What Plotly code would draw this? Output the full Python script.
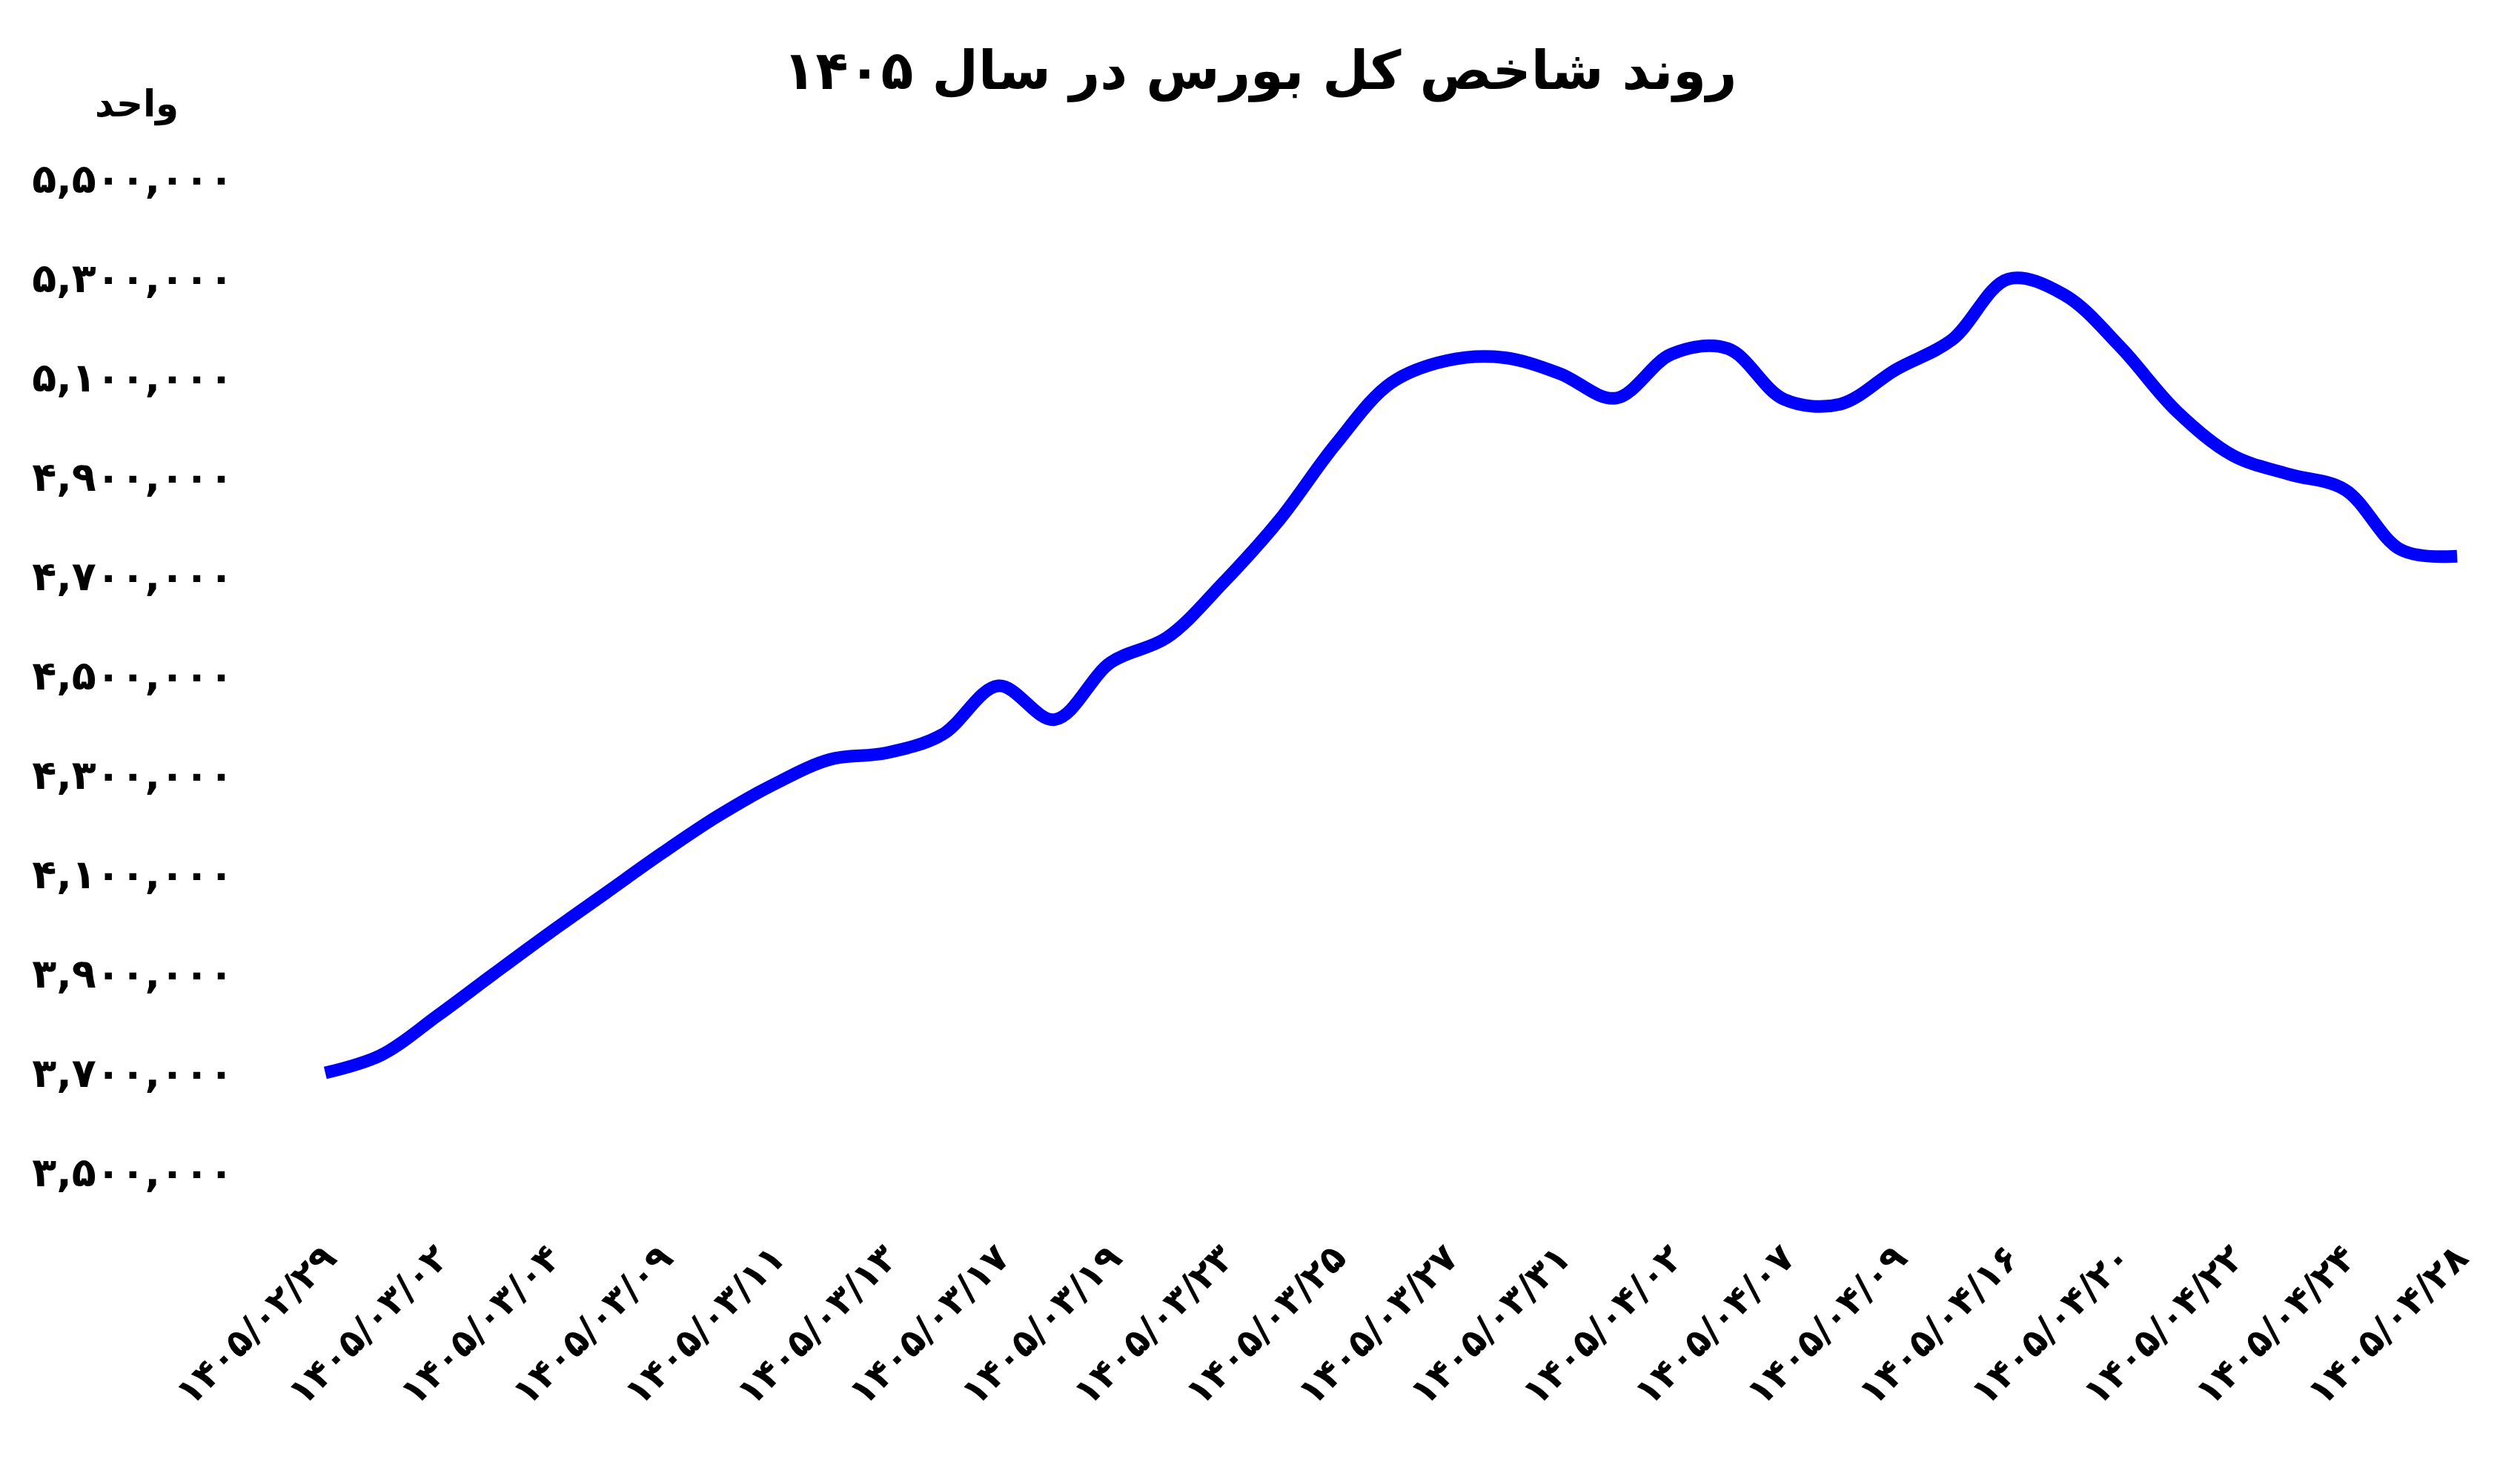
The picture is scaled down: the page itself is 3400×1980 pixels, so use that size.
import plotly.graph_objects as go

def fa(s):
    return str(s).translate(str.maketrans("0123456789", "۰۱۲۳۴۵۶۷۸۹"))

tick_dates = ["1405/02/29", "1405/03/02", "1405/03/04", "1405/03/09", "1405/03/11",
              "1405/03/13", "1405/03/17", "1405/03/19", "1405/03/23", "1405/03/25",
              "1405/03/27", "1405/03/31", "1405/04/02", "1405/04/07", "1405/04/09",
              "1405/04/16", "1405/04/20", "1405/04/22", "1405/04/24", "1405/04/28"]

index_values = [3700000, 3736000, 3815000, 3899000, 3982000, 4062000, 4142000, 4217000,
                4281000, 4331000, 4344000, 4381000, 4479000, 4411000, 4526000, 4576000,
                4686000, 4812000, 4964000, 5089000, 5134000, 5140000, 5108000, 5058000,
                5147000, 5158000, 5056000, 5046000, 5116000, 5176000, 5298000, 5266000,
                5161000, 5032000, 4943000, 4905000, 4874000, 4753000, 4740000]

y_ticks = [3500000, 3700000, 3900000, 4100000, 4300000, 4500000, 4700000, 4900000,
           5100000, 5300000, 5500000]

title_text = "روند شاخص کل بورس در سال ۱۴۰۵"
unit_text = "واحد"

x = list(range(len(index_values)))
tick_positions = x[::2]

fig = go.Figure()
fig.add_trace(go.Scatter(
    x=x, y=index_values, mode="lines",
    line=dict(color="#0000FF", width=17, shape="spline", smoothing=1.0),
    hoverinfo="skip", showlegend=False,
))

FONT = "DejaVu Sans"
fig.update_layout(
    width=3400, height=1980,
    paper_bgcolor="white", plot_bgcolor="white",
    margin=dict(l=401, r=47, t=174, b=332),
    title=dict(text="<b>" + title_text + "</b>", x=0.5, xanchor="center",
               y=0.952, yanchor="middle",
               font=dict(family=FONT, size=72, color="black")),
    xaxis=dict(range=[-0.5, 38.5], tickmode="array", tickvals=tick_positions,
               ticktext=[fa(d) for d in tick_dates], tickangle=-45,
               showgrid=False, zeroline=False, showline=False, ticks="",
               ticklabelstandoff=8,
               tickfont=dict(family=FONT, size=50, color="black", weight="bold")),
    yaxis=dict(range=[3400000, 5600000], tickmode="array", tickvals=y_ticks,
               ticktext=[fa(f"{v:,}") for v in y_ticks],
               showgrid=False, zeroline=False, showline=False, ticks="",
               ticklabelstandoff=85,
               tickfont=dict(family=FONT, size=54, color="black", weight="bold")),
    annotations=[dict(text="<b>" + unit_text + "</b>", xref="paper", yref="paper",
                      x=-0.0735, y=1.0224, xanchor="center", yanchor="middle",
                      showarrow=False,
                      font=dict(family=FONT, size=50, color="black"))],
)

fig.write_html("out.html")
